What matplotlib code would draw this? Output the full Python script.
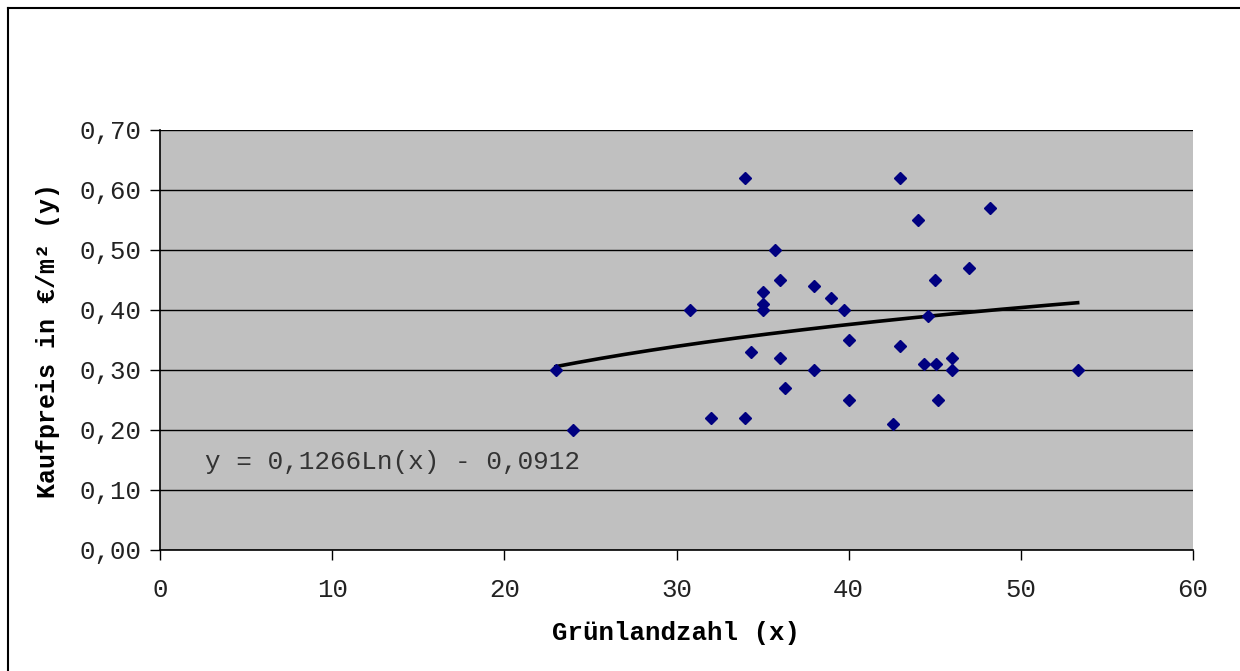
import numpy as np
import matplotlib.pyplot as plt
from matplotlib.lines import Line2D
from matplotlib.ticker import FuncFormatter

# Grünlandzahl (x) und Kaufpreis in €/m² (y)
gruenlandzahl = [23.0, 24.0, 30.8, 32.0, 34.0, 34.0, 34.3, 35.0, 35.0, 35.0,
                 35.7, 36.0, 36.0, 36.3, 38.0, 38.0, 39.0, 39.7, 40.0, 40.0,
                 42.6, 43.0, 43.0, 44.0, 44.4, 44.6, 45.0, 45.1, 45.2, 46.0,
                 46.0, 47.0, 48.2, 53.3]
kaufpreis = [0.30, 0.20, 0.40, 0.22, 0.62, 0.22, 0.33, 0.43, 0.41, 0.40,
             0.50, 0.45, 0.32, 0.27, 0.44, 0.30, 0.42, 0.40, 0.35, 0.25,
             0.21, 0.62, 0.34, 0.55, 0.31, 0.39, 0.45, 0.31, 0.25, 0.32,
             0.30, 0.47, 0.57, 0.30]

# logarithmische Trendlinie y = a*Ln(x) + b
trend_a = 0.1266
trend_b = -0.0912

x_ticks = [0, 10, 20, 30, 40, 50, 60]
y_ticks = [0.0, 0.1, 0.2, 0.3, 0.4, 0.5, 0.6, 0.7]

plt.rcParams['font.family'] = ['Liberation Mono', 'DejaVu Sans Mono']

fig = plt.figure(figsize=(12.4, 6.71), dpi=100)
ax = fig.add_axes([160 / 1240, 1 - 550 / 671, 1033 / 1240, 420 / 671])
ax.set_facecolor('#c0c0c0')

# Rahmen links und oben
fig.add_artist(Line2D([7.5 / 1240, 7.5 / 1240], [0, 1 - 7.5 / 671], color='black', lw=1.5))
fig.add_artist(Line2D([7.5 / 1240, 1], [1 - 7.5 / 671, 1 - 7.5 / 671], color='black', lw=1.5))

ax.set_axisbelow(True)
ax.grid(axis='y', color='black', lw=1.0)

tx = np.linspace(min(gruenlandzahl), max(gruenlandzahl), 200)
ax.plot(tx, trend_a * np.log(tx) + trend_b, color='black', lw=2.6, zorder=2)
ax.plot(gruenlandzahl, kaufpreis, 'D', color='#000080', ms=6.5, mec='#000080', zorder=3)

ax.set_xlim(0, 60)
ax.set_ylim(0, 0.7)
ax.set_xticks(x_ticks)
ax.set_yticks(y_ticks)
ax.yaxis.set_major_formatter(FuncFormatter(lambda v, p: f'{v:.2f}'.replace('.', ',')))
ax.tick_params(direction='out', length=7, width=1, labelsize=18.5, colors='black')
ax.tick_params(axis='x', labelcolor='#222222', pad=13)
ax.tick_params(axis='y', labelcolor='#222222', pad=6)

for s in ['top', 'right']:
    ax.spines[s].set_visible(False)
for s in ['left', 'bottom']:
    ax.spines[s].set_color('black')
    ax.spines[s].set_linewidth(1.2)

ax.set_xlabel('Grünlandzahl (x)', fontsize=18.5, fontweight='bold', labelpad=14)
ax.set_ylabel('Kaufpreis in €/m² (y)', fontsize=18, fontweight='bold', labelpad=14)

ax.text(2.6, 0.147, 'y = 0,1266Ln(x) - 0,0912', fontsize=18.7, color='#333333',
        va='center', ha='left')

fig.savefig('out.png', dpi=100)
